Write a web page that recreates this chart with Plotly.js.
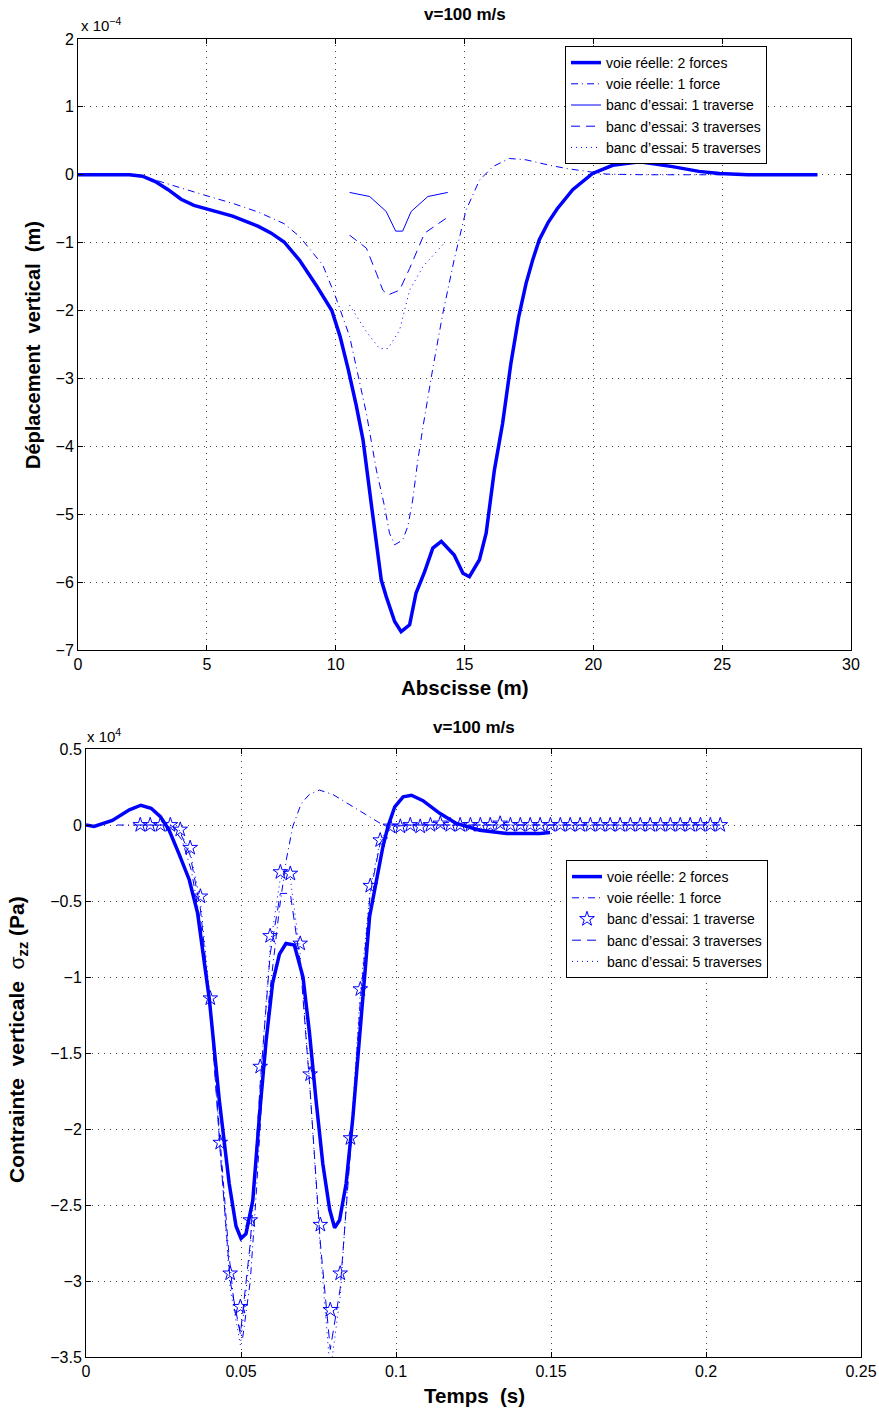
<!DOCTYPE html>
<html><head><meta charset="utf-8">
<script src="https://cdn.plot.ly/plotly-3.0.1.min.js"></script>
<style>html,body{margin:0;padding:0;background:#fff}#c{width:879px;height:1411px}</style>
</head><body><div id="c"></div>
<script>
// ---------- Names ----------
const namesTop = ["voie réelle: 2 forces","voie réelle: 1 force","banc d’essai: 1 traverse","banc d’essai: 3 traverses","banc d’essai: 5 traverses"];
const namesBot = namesTop;
const chartTitle = "v=100 m/s";

// ---------- Top chart: vertical displacement (x 1e-4 m) vs abscissa (m) ----------
const top2F_x = [0,1,2,2.5,3,3.5,4,4.5,5,6,7,7.5,8,8.6,9.25,9.85,10.17,10.49,10.8,11.06,11.4,11.77,11.96,12.29,12.54,12.87,13.12,13.45,13.77,14.1,14.6,14.94,15.19,15.58,15.84,16.16,16.48,16.8,17.1,17.39,17.65,17.9,18.25,18.6,19.2,19.97,20.75,21.8,23.07,24.1,24.9,26,27,28.7];
const top2F_y = [0,0,0,-0.02,-0.1,-0.22,-0.36,-0.45,-0.5,-0.61,-0.76,-0.86,-0.99,-1.26,-1.63,-2.0,-2.38,-2.87,-3.4,-3.9,-4.9,-5.97,-6.21,-6.58,-6.73,-6.63,-6.16,-5.85,-5.5,-5.4,-5.6,-5.87,-5.92,-5.67,-5.28,-4.35,-3.66,-2.78,-2.1,-1.6,-1.25,-0.96,-0.7,-0.5,-0.22,0.02,0.14,0.19,0.12,0.05,0.02,0,0,0];
const top1F_x = [0,1,2,2.5,3,4,5,6,7,8,8.6,9.5,10,10.54,10.8,11.19,11.58,11.9,12.09,12.29,12.6,12.8,12.99,13.19,13.39,13.58,13.78,14.16,14.6,15.06,15.58,16.1,16.74,17.39,18.3,19.0,19.7,20.5,22,24,25];
const top1F_y = [0,0,0,-0.02,-0.08,-0.2,-0.31,-0.42,-0.55,-0.72,-0.91,-1.33,-1.8,-2.38,-2.83,-3.51,-4.35,-4.89,-5.28,-5.45,-5.38,-5.18,-4.79,-4.2,-3.71,-3.27,-2.83,-2.04,-1.25,-0.52,-0.08,0.12,0.24,0.22,0.14,0.09,0.05,0.01,0,0,0];
const topB1_x = [10.54,11.32,11.96,12.33,12.6,12.93,13.58,14.35];
const topB1_y = [-0.26,-0.32,-0.54,-0.83,-0.83,-0.54,-0.32,-0.26];
const topB3_x = [10.54,11.19,11.58,11.83,12.03,12.48,12.87,13.45,14.29];
const topB3_y = [-0.89,-1.08,-1.45,-1.7,-1.77,-1.7,-1.38,-0.86,-0.64];
const topB5_x = [10.54,11.19,11.7,12.03,12.48,12.87,13.39,14.16];
const topB5_y = [-1.92,-2.31,-2.56,-2.56,-2.29,-1.7,-1.35,-1.03];

// ---------- Bottom chart: vertical stress (x 1e4 Pa) vs time (s) ----------
const bot2F_t = [0,0.0026,0.0085,0.014,0.0177,0.021,0.024,0.0268,0.030,0.0333,0.036,0.0398,0.043,0.0462,0.0484,0.050,0.0516,0.0538,0.056,0.0581,0.0602,0.0624,0.0645,0.0672,0.070,0.0721,0.0742,0.0764,0.0786,0.0802,0.0818,0.0839,0.0861,0.0888,0.0915,0.0958,0.0974,0.0996,0.1023,0.105,0.1087,0.1141,0.1195,0.127,0.1357,0.1465,0.1497];
const bot2F_y = [0,-0.01,0.03,0.1,0.13,0.11,0.055,-0.034,-0.19,-0.36,-0.58,-1.15,-1.81,-2.36,-2.64,-2.72,-2.69,-2.47,-1.9,-1.42,-1.04,-0.85,-0.78,-0.79,-1.0,-1.37,-1.81,-2.23,-2.53,-2.65,-2.6,-2.36,-1.92,-1.26,-0.6,-0.14,-0.01,0.12,0.185,0.196,0.16,0.077,0.01,-0.034,-0.056,-0.056,-0.05];
const bot1F_t = [0.01,0.02,0.025,0.028,0.031,0.034,0.037,0.040,0.043,0.046,0.048,0.0505,0.053,0.055,0.057,0.059,0.0624,0.0646,0.0667,0.0694,0.072,0.0753,0.0797,0.0861,0.0926,0.0958,0.11,0.15,0.2];
const bot1F_y = [0,0,0,-0.02,-0.1,-0.3,-0.65,-1.2,-2.0,-2.8,-3.2,-3.38,-3.0,-2.4,-1.7,-1.15,-0.55,-0.23,-0.01,0.14,0.2,0.23,0.2,0.12,0.044,0,0,0,0];
const botB1_t = [0.0175,0.0207,0.0240,0.0272,0.0304,0.0336,0.0369,0.0401,0.0433,0.0465,0.0498,0.0530,0.0562,0.0594,0.0627,0.0659,0.0691,0.0723,0.0756,0.0788,0.0820,0.0853,0.0885,0.0917,0.0949,0.0982,0.1014,0.1046,0.1078,0.1111,0.1143,0.1175,0.1207,0.1240,0.1272,0.1304,0.1336,0.1369,0.1401,0.1433,0.1465,0.1498,0.1530,0.1562,0.1594,0.1627,0.1659,0.1691,0.1723,0.1756,0.1788,0.1820,0.1853,0.1885,0.1917,0.1949,0.1982,0.2014,0.2046];
const botB1_y = [0,0,0,0,-0.03,-0.15,-0.47,-1.14,-2.09,-2.95,-3.17,-2.6,-1.59,-0.73,-0.31,-0.32,-0.78,-1.64,-2.63,-3.19,-2.95,-2.06,-1.08,-0.4,-0.1,-0.01,-0.01,0,-0.01,0,0.01,0,0,0,0,0,0.01,0,0,0,0,0,0,0,0,0,0,0,0,0,0,0,0,0,0,0,0,0,0];
const botB3_t = [0.0175,0.024,0.0272,0.0304,0.0336,0.0369,0.0401,0.0433,0.0465,0.0498,0.0530,0.0562,0.0594,0.0627,0.0659,0.0691,0.0723,0.0756,0.0788,0.0820,0.0853,0.0885,0.0917,0.0949,0.0982,0.105,0.2046];
const botB3_y = [0,0,0,-0.05,-0.2,-0.55,-1.2,-2.15,-3.0,-3.35,-2.75,-1.7,-0.85,-0.45,-0.45,-0.9,-1.75,-2.75,-3.45,-3.05,-2.15,-1.15,-0.45,-0.12,-0.01,0,0];
const botB5_t = [0.0175,0.024,0.0272,0.0304,0.0336,0.0369,0.0401,0.0433,0.0465,0.0498,0.0530,0.0562,0.0594,0.0627,0.0659,0.0691,0.0723,0.0756,0.0788,0.0820,0.0853,0.0885,0.0917,0.0949,0.0982,0.105,0.2046];
const botB5_y = [0,0,0,-0.04,-0.18,-0.5,-1.15,-2.15,-3.05,-3.42,-2.8,-1.7,-0.8,-0.35,-0.35,-0.85,-1.75,-2.8,-3.6,-3.1,-2.1,-1.1,-0.42,-0.1,-0.01,0,0];

// ---------- Axis tick settings ----------
const topXTicks = [0,5,10,15,20,25,30];
const topYTicks = [2,1,0,-1,-2,-3,-4,-5,-6,-7];
const botXTicks = [0,0.05,0.1,0.15,0.2,0.25];
const botYTicks = [0.5,0,-0.5,-1,-1.5,-2,-2.5,-3,-3.5];

const W = 879, H = 1411;
const BLUE = 'rgb(0,0,255)';
const FONT = 'Liberation Sans, Arial, Helvetica, sans-serif';
const DASHDOT = '7px,4px,1px,4px';
const DASH = '9px,6px';
const DOT = '1px,4px';

const traces = [
  {x: top2F_x, y: top2F_y, name: namesTop[0], xaxis:'x', yaxis:'y', legend:'legend', mode:'lines', line:{color:BLUE, width:3.5}},
  {x: top1F_x, y: top1F_y, name: namesTop[1], xaxis:'x', yaxis:'y', legend:'legend', mode:'lines', line:{color:BLUE, width:1, dash:DASHDOT}},
  {x: topB1_x, y: topB1_y, name: namesTop[2], xaxis:'x', yaxis:'y', legend:'legend', mode:'lines', line:{color:BLUE, width:1}},
  {x: topB3_x, y: topB3_y, name: namesTop[3], xaxis:'x', yaxis:'y', legend:'legend', mode:'lines', line:{color:BLUE, width:1, dash:DASH}},
  {x: topB5_x, y: topB5_y, name: namesTop[4], xaxis:'x', yaxis:'y', legend:'legend', mode:'lines', line:{color:BLUE, width:1, dash:DOT}},

  {x: bot2F_t, y: bot2F_y, name: namesBot[0], xaxis:'x2', yaxis:'y2', legend:'legend2', mode:'lines', line:{color:BLUE, width:3.5}},
  {x: bot1F_t, y: bot1F_y, name: namesBot[1], xaxis:'x2', yaxis:'y2', legend:'legend2', mode:'lines', line:{color:BLUE, width:1, dash:DASHDOT}},
  {x: botB1_t, y: botB1_y, name: namesBot[2], xaxis:'x2', yaxis:'y2', legend:'legend2', mode:'markers', marker:{symbol:'star-open', size:11, color:BLUE, line:{color:BLUE, width:1}}},
  {x: botB3_t, y: botB3_y, name: namesBot[3], xaxis:'x2', yaxis:'y2', legend:'legend2', mode:'lines', line:{color:BLUE, width:1, dash:DASH}},
  {x: botB5_t, y: botB5_y, name: namesBot[4], xaxis:'x2', yaxis:'y2', legend:'legend2', mode:'lines', line:{color:BLUE, width:1, dash:DOT}}
];

function axisStyle(extra){
  return Object.assign({
    showline:true, mirror:'ticks', linecolor:'#000', linewidth:1,
    ticks:'inside', ticklen:5, tickcolor:'#000', tickwidth:1,
    showgrid:true, gridcolor:'rgb(70,70,70)', gridwidth:1, griddash:'1px,5px',
    zeroline:false, tickfont:{family:FONT, size:16, color:'#000'},
    tickmode:'array', fixedrange:true
  }, extra);
}
const px = v => v / W;
const py = v => 1 - v / H;

function ann(text, x, y, size, opts){
  return Object.assign({text:text, xref:'paper', yref:'paper', x:px(x), y:py(y), showarrow:false,
    font:{family:FONT, size:size, color:'#000'}, xanchor:'center', yanchor:'middle'}, opts||{});
}

const legendStyle = {bgcolor:'#fff', bordercolor:'#000', borderwidth:1, font:{family:FONT, size:14, color:'#000'},
  xanchor:'left', yanchor:'top', tracegroupgap:0, itemwidth:30};

const layout = {
  width: W, height: H, margin:{l:0, r:0, t:0, b:0}, paper_bgcolor:'#fff', plot_bgcolor:'#fff',
  showlegend:true,
  xaxis: axisStyle({domain:[px(78), px(851)], range:[0,30], tickvals:topXTicks, anchor:'y'}),
  yaxis: axisStyle({domain:[py(650), py(39)], range:[-7,2], tickvals:topYTicks, anchor:'x'}),
  xaxis2: axisStyle({domain:[px(86), px(861)], range:[0,0.25], tickvals:botXTicks, anchor:'y2'}),
  yaxis2: axisStyle({domain:[py(1357), py(749)], range:[-3.5,0.5], tickvals:botYTicks, anchor:'x2'}),
  legend: Object.assign({x:px(565), y:py(46)}, legendStyle),
  legend2: Object.assign({x:px(566), y:py(860)}, legendStyle),
  annotations: [
    ann('<b>' + chartTitle + '</b>', 465, 15, 17),
    ann('<b>Abscisse (m)</b>', 465, 687, 20.5),
    ann('<b>Déplacement&nbsp; vertical&nbsp; (m)</b>', 33, 345, 20, {textangle:-90}),
    ann('x 10<sup>−4</sup>', 79, 25, 15, {xanchor:'left'}),
    ann('<b>' + chartTitle + '</b>', 474, 727, 17),
    ann('<b>Temps&nbsp; (s)</b>', 474, 1395, 20.5),
    ann('<b>Contrainte&nbsp; verticale</b>&nbsp; σ<b><sub>zz</sub></b> <b>(Pa)</b>', 18, 1040, 21, {textangle:-90}),
    ann('x 10<sup>4</sup>', 85, 735, 15, {xanchor:'left'})
  ]
};

Plotly.newPlot('c', traces, layout, {staticPlot:true, displayModeBar:false});
</script>
</body></html>
